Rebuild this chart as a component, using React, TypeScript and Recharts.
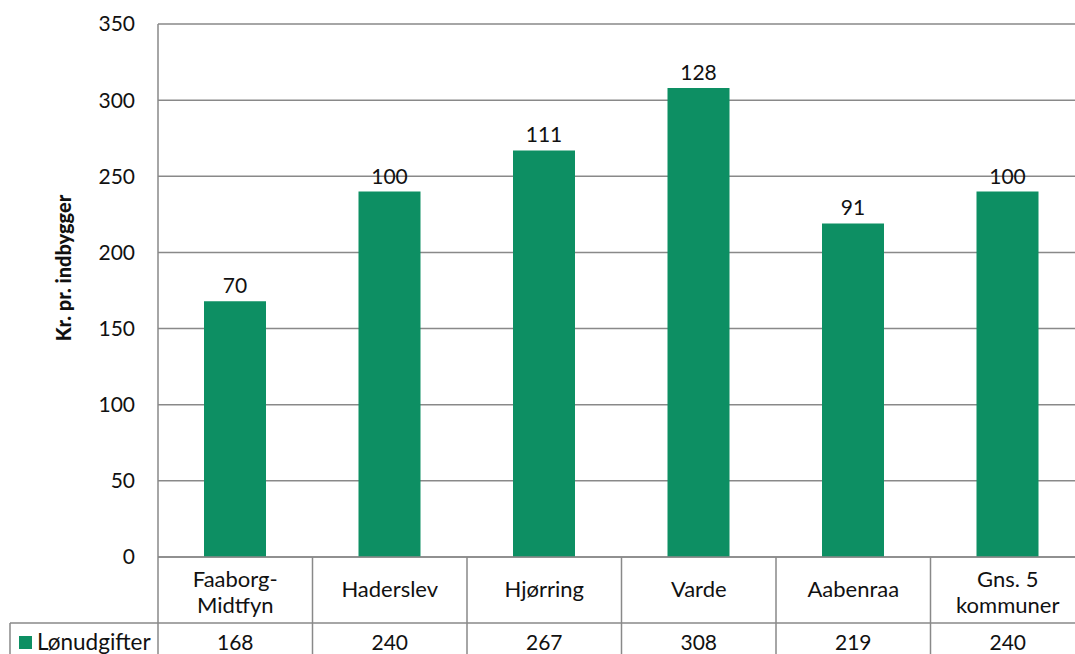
import { BarChart, Bar, XAxis, YAxis, CartesianGrid, LabelList } from 'recharts';

const categories = [['Faaborg-', 'Midtfyn'], ['Haderslev'], ['Hjørring'], ['Varde'], ['Aabenraa'], ['Gns. 5', 'kommuner']];
const lonudgifter = [168, 240, 267, 308, 219, 240];
const indeks = [70, 100, 111, 128, 91, 100];
const yTicks = [0, 50, 100, 150, 200, 250, 300, 350];
const seriesName = 'Lønudgifter';

const data = categories.map((lines, i) => ({
  name: lines.join(' '),
  lines,
  value: lonudgifter[i],
  index: indeks[i],
}));

const W = 1090;
const H = 670;
const MARGIN = { top: 24, right: 5, bottom: 0, left: 0 };
const Y_AXIS_W = 158;
const X_AXIS_H = 113;
const PLOT_W = W - MARGIN.left - MARGIN.right - Y_AXIS_W;
const BAND = PLOT_W / categories.length;
const GREEN = '#0d8f63';
const LINE = '#898989';
const FONT = 'Lato, "Open Sans", sans-serif';

function TableTick(props: any) {
  const { x, y, index } = props;
  const d = data[index];
  const left = x - BAND / 2;
  const right = x + BAND / 2;
  const rowY = y + 66;
  return (
    <g>
      {index === 0 && (
        <g>
          <line x1={left} y1={y} x2={left} y2={H} stroke={LINE} strokeWidth={1.5} />
          <line x1={10} y1={rowY} x2={left + PLOT_W} y2={rowY} stroke={LINE} strokeWidth={1.5} />
          <line x1={10} y1={rowY} x2={10} y2={H} stroke={LINE} strokeWidth={1.5} />
          <rect x={19} y={rowY + 13} width={13} height={13} fill={GREEN} />
          <text x={37} y={rowY + 27} fontSize={22.5} fill="#111" fontFamily={FONT}>
            {seriesName}
          </text>
        </g>
      )}
      <line x1={right} y1={y} x2={right} y2={H} stroke={LINE} strokeWidth={1.5} />
      {d.lines.length === 1 ? (
        <text x={x} y={y + 40} textAnchor="middle" fontSize={22} fill="#111" fontFamily={FONT}>
          {d.lines[0]}
        </text>
      ) : (
        d.lines.map((t: string, i: number) => (
          <text key={i} x={x} y={y + 30 + i * 26} textAnchor="middle" fontSize={22} fill="#111" fontFamily={FONT}>
            {t}
          </text>
        ))
      )}
      <text x={x} y={rowY + 27} textAnchor="middle" fontSize={21} fill="#111" fontFamily={FONT}>
        {d.value}
      </text>
    </g>
  );
}

function YTitle(props: any) {
  const vb = props.viewBox;
  const cx = vb.x + 63;
  const cy = 268;
  return (
    <text
      x={cx}
      y={cy}
      transform={`rotate(-90 ${cx} ${cy})`}
      textAnchor="middle"
      dominantBaseline="central"
      fontSize={20}
      fontWeight={900}
      fill="#111"
      fontFamily={FONT}
    >
      Kr. pr. indbygger
    </text>
  );
}

export default function App() {
  return (
    <div style={{ position: 'fixed', left: 0, top: 0, width: 1075, height: 654, overflow: 'hidden', background: '#fff' }}>
      <BarChart width={W} height={H} data={data} margin={MARGIN}>
        <CartesianGrid vertical={false} stroke={LINE} strokeWidth={1.5} />
        <XAxis
          dataKey="name"
          height={X_AXIS_H}
          axisLine={{ stroke: LINE, strokeWidth: 1.5 }}
          tickLine={false}
          tickSize={0}
          tickMargin={0}
          interval={0}
          tick={<TableTick />}
        />
        <YAxis
          width={Y_AXIS_W}
          domain={[0, 350]}
          ticks={yTicks}
          axisLine={{ stroke: LINE, strokeWidth: 1.5 }}
          tickLine={false}
          tickSize={0}
          tickMargin={23}
          tick={{ fontSize: 21, fill: '#111', fontFamily: FONT }}
          label={<YTitle />}
        />
        <Bar dataKey="value" fill={GREEN} isAnimationActive={false} barSize={62}>
          <LabelList dataKey="index" position="top" offset={8} fontSize={21} fill="#111" fontFamily={FONT} />
        </Bar>
      </BarChart>
    </div>
  );
}
